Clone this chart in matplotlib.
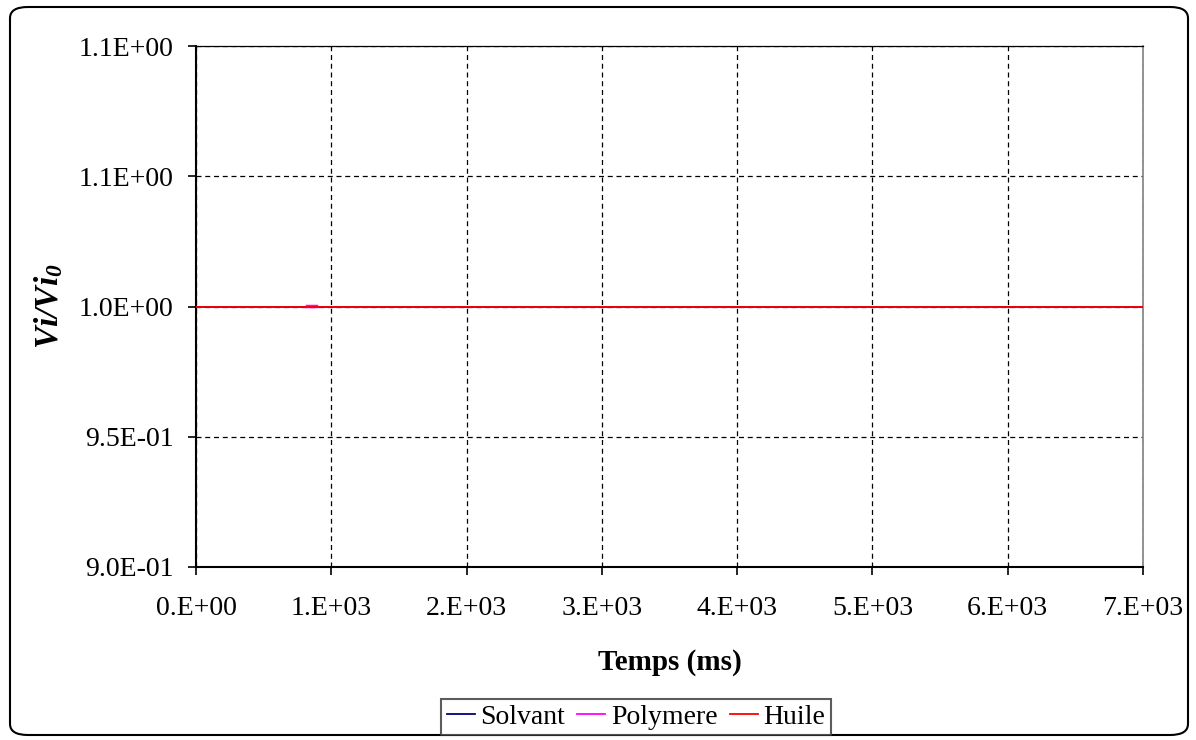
import matplotlib
matplotlib.use("Agg")
import matplotlib.pyplot as plt
from matplotlib.patches import FancyBboxPatch
from matplotlib.ticker import FixedLocator
from matplotlib.lines import Line2D

plt.rcParams['font.family'] = ['Liberation Serif', 'DejaVu Serif']
plt.rcParams['mathtext.fontset'] = 'custom'
plt.rcParams['mathtext.rm'] = 'Liberation Serif'
plt.rcParams['mathtext.it'] = 'Liberation Serif:italic'
plt.rcParams['mathtext.bf'] = 'Liberation Serif:bold'
plt.rcParams['mathtext.bfit'] = 'Liberation Serif:italic:bold'

# Data
solvant_t = [0, 7000]
solvant_v = [1.0, 1.0]
polymere_t = [820, 890]
polymere_v = [1.0003, 1.0003]
huile_t = [0, 7000]
huile_v = [1.0, 1.0]

x_ticks = [0, 1000, 2000, 3000, 4000, 5000, 6000, 7000]
x_labels = ["0.E+00", "1.E+03", "2.E+03", "3.E+03", "4.E+03", "5.E+03", "6.E+03", "7.E+03"]
y_ticks = [0.90, 0.95, 1.00, 1.05, 1.10]
y_labels = ["9.0E-01", "9.5E-01", "1.0E+00", "1.1E+00", "1.1E+00"]

fig = plt.figure(figsize=(11.96, 7.40), dpi=100)
fig.patch.set_facecolor('white')

border = FancyBboxPatch((10/1196, 5/740), 1178/1196, 728/740,
                        boxstyle="round,pad=0,rounding_size=0.015",
                        transform=fig.transFigure, facecolor='none',
                        edgecolor='black', linewidth=1.5, zorder=0)
fig.patches.append(border)

ax = fig.add_axes([196/1196, 1 - 567/740, (1143 - 196)/1196, (567 - 46)/740])

ax.plot(solvant_t, solvant_v, color='#000080', lw=1.3, zorder=3)
ax.plot(polymere_t, polymere_v, color='#FF00FF', lw=2.5, zorder=4)
ax.plot(huile_t, huile_v, color='#FF0000', lw=1.3, zorder=5)

ax.set_xlim(0, 7000)
ax.set_ylim(0.9, 1.1)
ax.xaxis.set_major_locator(FixedLocator(x_ticks))
ax.yaxis.set_major_locator(FixedLocator(y_ticks))
ax.set_xticklabels(x_labels)
ax.set_yticklabels(y_labels)
ax.tick_params(axis='both', direction='out', length=6, width=1.2, labelsize=20)
ax.tick_params(axis='y', pad=10)
ax.tick_params(axis='x', pad=15)

ax.grid(True, which='major', color='black', linestyle=(0, (4, 3)), linewidth=0.9)
ax.set_axisbelow(True)

ax.spines['left'].set_linewidth(1.5)
ax.spines['bottom'].set_linewidth(1.5)
ax.spines['top'].set_color('black')
ax.spines['top'].set_linewidth(0.9)
ax.spines['right'].set_color('#808080')
ax.spines['right'].set_linewidth(1.2)

ax.set_xlabel('Temps (ms)', fontsize=21, fontweight='bold', labelpad=20)
ax.set_ylabel(r'$\mathbfit{Vi/Vi_0}$', fontsize=24, labelpad=10)

handles = [Line2D([], [], color='#000080', lw=1.3),
           Line2D([], [], color='#FF00FF', lw=1.3),
           Line2D([], [], color='#FF0000', lw=1.3)]
leg = fig.legend(handles, ['Solvant', 'Polymere', 'Huile'], loc='center',
                 bbox_to_anchor=(636/1196, 1 - 717/740), ncol=3,
                 frameon=True, fancybox=False, fontsize=20, handlelength=1.0,
                 handletextpad=0.2, columnspacing=0.45, borderpad=0.2,
                 borderaxespad=0, edgecolor='#333333')
leg.get_frame().set_linewidth(1.5)

fig.savefig('out.png', dpi=100, facecolor='white')
